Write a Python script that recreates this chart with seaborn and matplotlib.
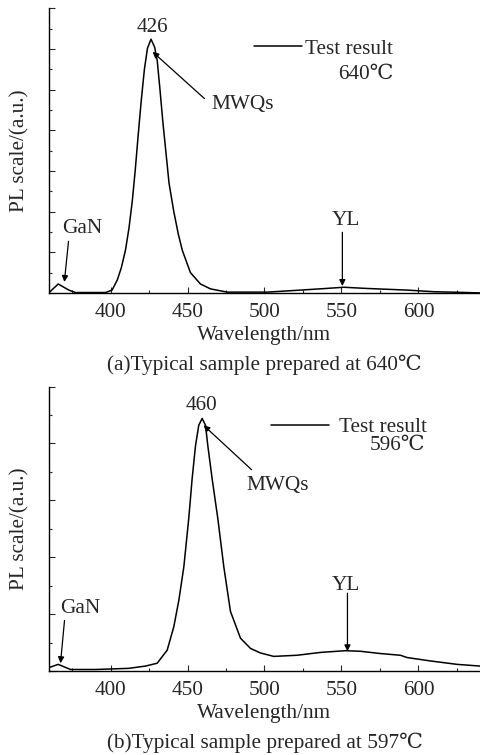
import numpy as np
import pandas as pd
import matplotlib
matplotlib.use("Agg")
import matplotlib.pyplot as plt
from matplotlib.ticker import MultipleLocator
import seaborn as sns

# spectrum (a): sample grown at 640 C
wl_a = [360.4, 366.0, 372.9, 377.3, 389.0, 396.8, 401.0, 404.4, 407.0, 409.7,
        412.0, 414.1, 416.0, 418.0, 420.0, 422.0, 424.0, 426.3, 428.6, 430.3,
        432.0, 434.0, 436.0, 438.0, 441.1, 444.0, 446.6, 451.9, 458.4, 464.9,
        475.8, 501.8, 523.4, 540.0, 551.5, 566.7, 592.7, 610.0, 631.6, 640.0]
pl_a = [0.02, 0.22, 0.07, 0.01, 0.01, 0.01, 0.07, 0.32, 0.62, 1.05,
        1.60, 2.25, 3.00, 3.90, 4.75, 5.50, 6.02, 6.24, 6.05, 5.72,
        5.05, 4.20, 3.45, 2.70, 2.00, 1.45, 1.05, 0.50, 0.22, 0.10,
        0.02, 0.02, 0.07, 0.11, 0.14, 0.11, 0.07, 0.03, 0.01, 0.00]

# spectrum (b): sample grown at 597 C
wl_b = [360.2, 366.0, 374.0, 390.3, 411.9, 422.7, 430.3, 436.8, 441.1, 444.4,
        447.6, 450.8, 453.0, 455.2, 457.3, 459.5, 461.7, 463.2, 466.0, 469.7,
        473.6, 477.9, 484.4, 490.9, 497.4, 506.0, 521.2, 536.4, 552.6, 562.3,
        575.3, 588.3, 592.6, 607.8, 625.1, 640.0]
pl_b = [0.065, 0.12, 0.03, 0.03, 0.05, 0.09, 0.14, 0.37, 0.78, 1.25,
        1.83, 2.68, 3.38, 3.96, 4.32, 4.44, 4.32, 3.96, 3.38, 2.68,
        1.83, 1.05, 0.58, 0.40, 0.32, 0.26, 0.28, 0.33, 0.36, 0.35,
        0.31, 0.28, 0.24, 0.18, 0.12, 0.09]

x_ticks = [400, 450, 500, 550, 600]

FS = 15.3

sns.set_theme(style="ticks")
plt.rcParams["font.family"] = ["Liberation Serif", "DejaVu Serif", "Noto Sans CJK SC"]
plt.rcParams["font.size"] = FS
plt.rcParams["xtick.direction"] = "in"
plt.rcParams["ytick.direction"] = "in"

fig = plt.figure(figsize=(4.8, 7.55), dpi=100)
ax1 = fig.add_axes([0.102, 0.612, 0.898, 0.377])
ax2 = fig.add_axes([0.102, 0.111, 0.898, 0.377])

panels = [
    (ax1, wl_a, pl_a, 7, "(a)Typical sample prepared at 640℃"),
    (ax2, wl_b, pl_b, 5, "(b)Typical sample prepared at 597℃"),
]

for ax, wl, pl, ytop, caption in panels:
    df = pd.DataFrame({"wl": wl, "pl": pl})
    sns.lineplot(data=df, x="wl", y="pl", ax=ax, color="black", lw=1.1,
                 label="Test result", sort=False)
    ax.set_xlim(360, 640)
    ax.set_ylim(0, ytop)
    ax.set_xticks(x_ticks)
    ax.xaxis.set_minor_locator(MultipleLocator(25))
    ax.yaxis.set_major_locator(MultipleLocator(1))
    ax.yaxis.set_minor_locator(MultipleLocator(0.5))
    ax.set_yticklabels([])
    ax.tick_params(which="major", length=4, width=0.8, labelsize=FS, pad=7)
    ax.tick_params(which="minor", length=2, width=0.8)
    sns.despine(ax=ax)
    for s in ("left", "bottom"):
        ax.spines[s].set_linewidth(1.0)
        ax.spines[s].set_color("black")
    ax.set_xlabel("Wavelength/nm", fontsize=FS, labelpad=3)
    ax.set_ylabel("PL scale/(a.u.)", fontsize=FS)
    ax.yaxis.set_label_coords(-0.045, 0.5)
    ax.text(0.5, -0.252, caption, transform=ax.transAxes, ha="center",
            va="center", fontsize=FS)

arrow = dict(arrowstyle="-|>", color="black", lw=0.9, mutation_scale=9,
             shrinkA=0, shrinkB=0)

# panel (a) annotations
ax1.legend(loc="upper left", bbox_to_anchor=(0.452, 0.93), frameon=False,
           handlelength=2.25, handletextpad=0.15, borderpad=0, fontsize=FS)
ax1.text(583.8, 5.37, "640℃", ha="right", va="center")
ax1.text(427.3, 6.54, "426", ha="center", va="center")
ax1.annotate("", xy=(427.3, 5.93), xytext=(461.0, 4.78), arrowprops=arrow)
ax1.text(465.6, 4.63, "MWQs", ha="left", va="center")
ax1.annotate("", xy=(370.0, 0.27), xytext=(372.7, 1.27), arrowprops=arrow)
ax1.text(381.8, 1.59, "GaN", ha="center", va="center")
ax1.annotate("", xy=(550.6, 0.17), xytext=(550.6, 1.49), arrowprops=arrow)
ax1.text(552.6, 1.78, "YL", ha="center", va="center")

# panel (b) annotations
ax2.legend(loc="upper left", bbox_to_anchor=(0.491, 0.93), frameon=False,
           handlelength=2.7, handletextpad=0.5, borderpad=0, fontsize=FS)
ax2.text(604.5, 3.96, "596℃", ha="right", va="center")
ax2.text(459.0, 4.67, "460", ha="center", va="center")
ax2.annotate("", xy=(460.4, 4.32), xytext=(491.6, 3.54), arrowprops=arrow)
ax2.text(488.3, 3.26, "MWQs", ha="left", va="center")
ax2.annotate("", xy=(367.5, 0.14), xytext=(370.1, 0.89), arrowprops=arrow)
ax2.text(380.5, 1.10, "GaN", ha="center", va="center")
ax2.annotate("", xy=(553.9, 0.35), xytext=(553.9, 1.37), arrowprops=arrow)
ax2.text(552.6, 1.51, "YL", ha="center", va="center")

fig.savefig("out.png", dpi=100, facecolor="white")
